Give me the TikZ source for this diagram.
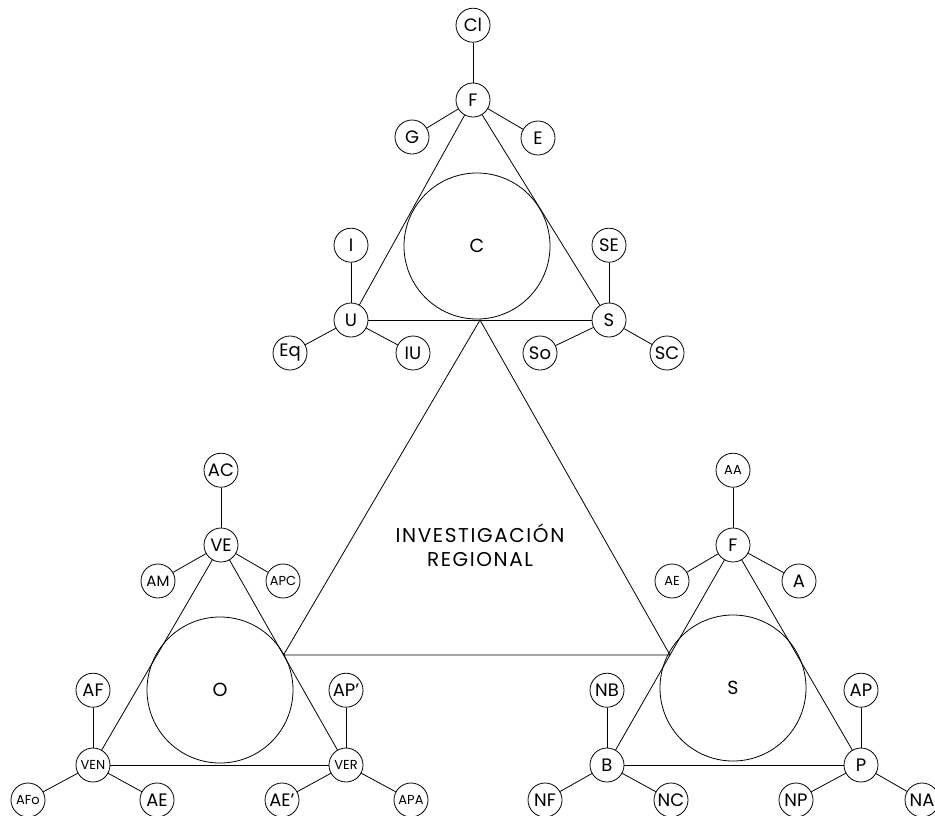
\documentclass[tikz,border=0pt]{standalone}
\usepackage{fontspec}
\setmainfont{Poppins}
\usetikzlibrary{positioning,calc}

\tikzset{
  leaf/.style={draw,circle,fill=white,minimum size=34pt,inner sep=0pt,
    font=\fontsize{18}{18}\selectfont},
  tiny/.style={font=\fontsize{13}{13}\selectfont},
  hub/.style={draw,circle,minimum size=146pt,inner sep=0pt,
    font=\fontsize{19}{19}\selectfont},
}

\begin{document}
\begin{tikzpicture}[x=1pt,y=-1pt,line width=0.8pt]
\useasboundingbox (0,0) rectangle (935,815);

% top cluster
\node[hub] (C) at (477,246) {C};
\node[leaf] (cF) at (473,100) {F};
\node[leaf] (cU) at (351,320) {U};
\node[leaf] (cS) at (609,320) {S};
\node[leaf,above=40pt of cF] (Cl) {Cl};
\node[leaf] (G) at (412,137) {G};
\node[leaf] (E) at (538,138) {E};
\node[leaf,above=40pt of cU] (I) {I};
\node[leaf,above=40pt of cS] (SE) {SE};
\node[leaf] (Eq) at (290,353) {Eq};
\node[leaf] (IU) at (413,353) {IU};
\node[leaf] (So) at (540,353) {So};
\node[leaf] (SC) at (667,353) {SC};

% left cluster
\node[hub] (O) at (220,690) {O};
\node[leaf] (VE) at (221,545) {VE};
\node[leaf,tiny] (VEN) at (93,765) {VEN};
\node[leaf,tiny] (VER) at (346,765) {VER};
\node[leaf] (AC) [above=40pt of VE] {AC};
\node[leaf,font=\fontsize{15}{15}\selectfont] (AM) at (158,581) {AM};
\node[leaf,tiny] (APC) at (283,581) {APC};
\node[leaf,above=40pt of VEN] (AF) {AF};
\node[leaf,above=40pt of VER] (APq) {AP'};
\node[leaf,tiny] (AFo) at (28,800) {AFo};
\node[leaf] (lAE) at (157,800) {AE};
\node[leaf] (lAEq) at (282,800) {AE'};
\node[leaf,tiny] (APA) at (411,800) {APA};

% right cluster
\node[hub] (S) at (733,688) {S};
\node[leaf] (sF) at (733,545) {F};
\node[leaf] (B) at (607,765) {B};
\node[leaf] (P) at (861,765) {P};
\node[leaf,tiny,above=40pt of sF] (AA) {AA};
\node[leaf,tiny] (rAE) at (672,581) {AE};
\node[leaf] (A) at (799,581) {A};
\node[leaf,above=40pt of B] (NB) {NB};
\node[leaf,above=40pt of P] (AP) {AP};
\node[leaf] (NF) at (545,800) {NF};
\node[leaf] (NC) at (671,800) {NC};
\node[leaf] (NP) at (796,800) {NP};
\node[leaf] (NA) at (922,800) {NA};

% triangles
\foreach \a/\b in {cF/cU,cU/cS,cS/cF,VE/VEN,VEN/VER,VER/VE,sF/B,B/P,P/sF}
  \draw (\a) -- (\b);

% spokes
\foreach \a/\b in {cF/Cl,cF/G,cF/E,cU/I,cU/Eq,cU/IU,cS/SE,cS/So,cS/SC,
  VE/AC,VE/AM,VE/APC,VEN/AF,VEN/AFo,VEN/lAE,VER/APq,VER/lAEq,VER/APA,
  sF/AA,sF/rAE,sF/A,B/NB,B/NF,B/NC,P/AP,P/NP,P/NA}
  \draw (\a) -- (\b);

% central triangle
\coordinate (apex) at ($(cU)!0.5!(cS)$);
\coordinate (west) at ($(VE)!0.5!(VER)$);
\coordinate (east) at ($(sF)!0.5!(B)$);
\draw (apex) -- (west) -- (east) -- cycle;
\node[align=center,font=\fontsize{20}{24}\selectfont\addfontfeature{LetterSpace=8}]
  (title) at (480,545) {INVESTIGACIÓN\\REGIONAL};
\end{tikzpicture}
\end{document}
